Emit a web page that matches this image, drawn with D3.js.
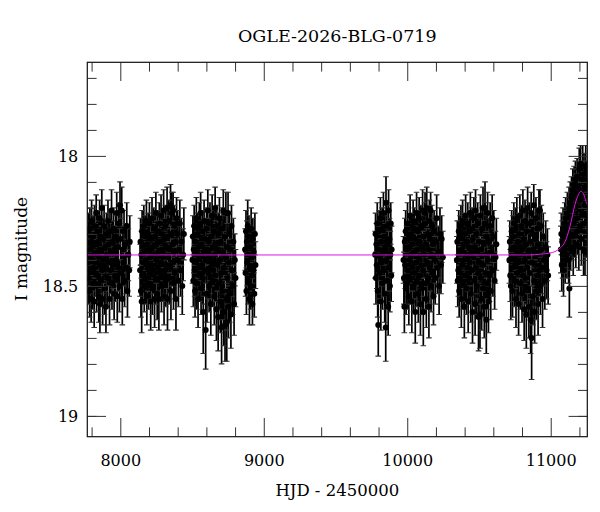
<!DOCTYPE html>
<html><head><meta charset="utf-8">
<script src="https://cdn.jsdelivr.net/npm/d3@7"></script>
<style>body{margin:0;background:#fff}svg{display:block}</style>
</head><body><svg id="c" width="600" height="512"></svg>
<script>
const title = "OGLE-2026-BLG-0719";
const xLabel = "HJD - 2450000";
const yLabel = "I magnitude";
const xMajorTicks = [8000, 9000, 10000, 11000];
const xTickLabels = ["8000", "9000", "10000", "11000"];
const xMinorTicks = [7800, 8200, 8400, 8600, 8800, 9200, 9400, 9600, 9800, 10200, 10400, 10600, 10800, 11200];
const yMajorTicks = [18, 18.5, 19];
const yTickLabels = ["18", "18.5", "19"];
const yMinorTicks = [17.7, 17.8, 17.9, 18.1, 18.2, 18.3, 18.4, 18.6, 18.7, 18.8, 18.9, 19.0];

// [HJD-2450000, I mag, error]
const season1 = [[7776,18.41,.09],[7779,18.30,.08],[7781,18.47,.10],[7783,18.36,.08],[7786,18.52,.10],[7788,18.28,.08],[7790,18.39,.09],[7793,18.44,.09],[7795,18.33,.08],[7797,18.55,.09],[7800,18.25,.08],[7802,18.40,.09],[7805,18.35,.08],[7807,18.49,.10],[7810,18.31,.08],[7812,18.43,.09],[7815,18.38,.09],[7818,18.56,.10],[7820,18.27,.08],[7823,18.45,.09],[7826,18.34,.08],[7829,18.41,.09],[7832,18.22,.07],[7835,18.50,.10],[7838,18.37,.09],[7841,18.29,.08],[7844,18.46,.10],[7847,18.33,.08],[7850,18.54,.10],[7853,18.39,.09],[7856,18.24,.07],[7858,18.57,.11],[7859,18.42,.09],[7862,18.31,.08],[7865,18.48,.10],[7868,18.36,.09],[7871,18.20,.07],[7874,18.44,.09],[7877,18.55,.10],[7880,18.32,.08],[7884,18.40,.09],[7887,18.27,.08],[7890,18.51,.10],[7894,18.35,.08],[7897,18.43,.09],[7900,18.58,.10],[7904,18.30,.08],[7907,18.38,.09],[7911,18.47,.10],[7914,18.25,.08],[7918,18.41,.09],[7921,18.34,.08],[7925,18.55,.10],[7928,18.29,.08],[7932,18.44,.09],[7935,18.37,.09],[7939,18.21,.08],[7942,18.49,.10],[7946,18.33,.08],[7950,18.42,.09],[7953,18.28,.08],[7957,18.53,.10],[7960,18.36,.09],[7964,18.46,.10],[7968,18.31,.08],[7971,18.40,.09],[7975,18.22,.08],[7979,18.54,.10],[7982,18.35,.08],[7986,18.43,.09],[7990,18.26,.08],[7994,18.50,.10],[7998,18.19,.09],[8002,18.32,.08],[8006,18.45,.09],[8010,18.21,.09],[8014,18.55,.10],[8018,18.36,.09],[8022,18.41,.09],[8026,18.29,.08],[8030,18.48,.10],[8035,18.34,.08],[8040,18.43,.10],[8045,18.27,.09],[8050,18.52,.10],[8056,18.38,.10],[8062,18.44,.10],[8066,18.33,.10]];
const season2 = [[8138,18.44,.10],[8141,18.33,.09],[8144,18.52,.10],[8147,18.38,.09],[8149,18.56,.12],[8152,18.29,.08],[8155,18.46,.10],[8158,18.35,.09],[8161,18.41,.09],[8164,18.27,.08],[8167,18.50,.10],[8170,18.37,.09],[8173,18.31,.08],[8176,18.47,.10],[8179,18.40,.09],[8182,18.25,.08],[8185,18.54,.11],[8188,18.34,.09],[8191,18.43,.09],[8194,18.30,.08],[8197,18.49,.10],[8200,18.36,.09],[8203,18.26,.08],[8206,18.45,.10],[8209,18.39,.09],[8212,18.56,.11],[8215,18.32,.08],[8218,18.42,.09],[8221,18.24,.08],[8224,18.51,.10],[8227,18.35,.09],[8230,18.44,.09],[8233,18.28,.08],[8236,18.38,.09],[8239,18.55,.11],[8242,18.31,.08],[8245,18.47,.10],[8248,18.22,.08],[8251,18.40,.09],[8254,18.34,.09],[8257,18.53,.10],[8260,18.29,.08],[8263,18.43,.09],[8266,18.37,.09],[8269,18.55,.12],[8272,18.26,.08],[8275,18.45,.10],[8278,18.33,.08],[8281,18.41,.09],[8284,18.23,.08],[8287,18.50,.10],[8290,18.36,.09],[8293,18.30,.08],[8296,18.46,.10],[8299,18.39,.09],[8302,18.21,.08],[8305,18.54,.11],[8308,18.32,.08],[8311,18.44,.09],[8314,18.27,.08],[8317,18.48,.10],[8320,18.35,.09],[8323,18.42,.09],[8326,18.20,.08],[8329,18.55,.12],[8332,18.31,.08],[8335,18.39,.09],[8338,18.25,.08],[8341,18.47,.10],[8344,18.36,.09],[8347,18.43,.09],[8350,18.19,.08],[8353,18.52,.11],[8356,18.30,.08],[8359,18.22,.08],[8362,18.41,.09],[8365,18.34,.09],[8368,18.21,.07],[8371,18.49,.10],[8374,18.37,.09],[8377,18.27,.08],[8380,18.45,.10],[8384,18.33,.09],[8388,18.55,.12],[8392,18.24,.08],[8396,18.40,.09],[8400,18.30,.09],[8405,18.48,.10],[8410,18.36,.09],[8415,18.26,.09],[8420,18.44,.10],[8426,18.33,.09],[8432,18.50,.11],[8438,18.38,.10],[8443,18.30,.10]];
const season3 = [[8503,18.40,.09],[8506,18.31,.08],[8509,18.48,.10],[8512,18.36,.09],[8515,18.27,.08],[8518,18.44,.10],[8521,18.52,.10],[8524,18.33,.09],[8527,18.41,.09],[8530,18.24,.08],[8533,18.49,.10],[8536,18.38,.09],[8539,18.30,.08],[8542,18.55,.11],[8545,18.35,.09],[8548,18.43,.09],[8551,18.26,.08],[8554,18.46,.10],[8557,18.39,.09],[8560,18.22,.08],[8563,18.51,.10],[8566,18.34,.09],[8569,18.42,.09],[8572,18.29,.08],[8575,18.47,.10],[8578,18.60,.16],[8581,18.37,.09],[8584,18.25,.08],[8587,18.44,.10],[8590,18.32,.08],[8595,18.67,.15],[8598,18.40,.09],[8601,18.28,.08],[8604,18.53,.11],[8607,18.36,.09],[8610,18.21,.08],[8613,18.45,.10],[8616,18.33,.09],[8619,18.50,.10],[8622,18.39,.09],[8625,18.26,.08],[8628,18.43,.10],[8631,18.57,.12],[8634,18.31,.08],[8637,18.41,.09],[8640,18.23,.08],[8643,18.48,.10],[8646,18.35,.09],[8649,18.44,.10],[8652,18.29,.08],[8655,18.54,.11],[8658,18.38,.09],[8661,18.20,.08],[8664,18.46,.10],[8667,18.34,.09],[8670,18.59,.12],[8673,18.27,.08],[8676,18.42,.10],[8679,18.36,.09],[8682,18.62,.13],[8685,18.30,.08],[8688,18.49,.10],[8691,18.24,.08],[8694,18.40,.09],[8697,18.56,.12],[8700,18.33,.09],[8703,18.45,.10],[8706,18.66,.14],[8709,18.28,.08],[8712,18.52,.11],[8715,18.37,.09],[8718,18.21,.08],[8721,18.60,.13],[8724,18.43,.10],[8727,18.31,.08],[8730,18.65,.14],[8733,18.39,.09],[8736,18.22,.08],[8739,18.55,.12],[8742,18.64,.15],[8745,18.35,.09],[8748,18.47,.10],[8751,18.22,.08],[8754,18.58,.12],[8757,18.41,.09],[8760,18.30,.08],[8763,18.53,.11],[8767,18.36,.09],[8771,18.61,.13],[8775,18.27,.08],[8779,18.44,.10],[8783,18.50,.11],[8788,18.33,.09],[8793,18.57,.12],[8798,18.40,.10],[8803,18.47,.11]];
const season4 = [[8870,18.36,.08],[8873,18.45,.09],[8876,18.29,.08],[8879,18.52,.09],[8882,18.33,.08],[8885,18.41,.09],[8888,18.27,.10],[8891,18.48,.09],[8894,18.38,.08],[8897,18.31,.08],[8900,18.55,.10],[8903,18.43,.09],[8906,18.35,.08],[8909,18.50,.09],[8912,18.28,.08],[8915,18.46,.09],[8918,18.39,.08],[8921,18.57,.08],[8924,18.32,.08],[8927,18.44,.09],[8930,18.37,.08],[8934,18.53,.09],[8938,18.30,.08],[8942,18.42,.09]];
const season5 = [[9776,18.38,.09],[9779,18.30,.08],[9782,18.47,.10],[9785,18.34,.08],[9788,18.42,.09],[9791,18.26,.08],[9794,18.52,.10],[9798,18.65,.12],[9801,18.36,.09],[9804,18.29,.08],[9807,18.45,.10],[9810,18.39,.09],[9813,18.24,.08],[9816,18.56,.11],[9819,18.33,.08],[9822,18.41,.09],[9825,18.28,.08],[9828,18.49,.10],[9831,18.37,.09],[9834,18.22,.08],[9837,18.44,.10],[9840,18.31,.08],[9843,18.53,.11],[9846,18.35,.09],[9850,18.66,.13],[9852,18.18,.10],[9855,18.40,.09],[9858,18.27,.08],[9861,18.48,.10],[9864,18.34,.09],[9867,18.58,.11],[9870,18.21,.08],[9873,18.43,.09],[9876,18.32,.08],[9879,18.50,.10],[9882,18.38,.09],[9885,18.26,.08],[9888,18.46,.10],[9891,18.36,.09]];
const season6 = [[9974,18.40,.09],[9977,18.47,.10],[9980,18.58,.10],[9983,18.33,.09],[9986,18.42,.09],[9989,18.29,.08],[9992,18.51,.10],[9996,18.36,.09],[9999,18.49,.10],[10002,18.26,.08],[10005,18.44,.10],[10008,18.35,.09],[10011,18.54,.11],[10014,18.31,.08],[10017,18.40,.09],[10020,18.23,.08],[10023,18.47,.10],[10026,18.38,.09],[10029,18.30,.08],[10032,18.56,.12],[10035,18.34,.09],[10038,18.43,.09],[10041,18.25,.08],[10044,18.50,.10],[10047,18.37,.09],[10050,18.28,.08],[10053,18.45,.10],[10056,18.60,.12],[10059,18.32,.08],[10062,18.41,.09],[10065,18.22,.08],[10068,18.48,.10],[10071,18.36,.09],[10074,18.29,.08],[10077,18.53,.11],[10080,18.39,.09],[10083,18.24,.08],[10086,18.46,.10],[10089,18.33,.09],[10092,18.57,.12],[10095,18.27,.08],[10098,18.42,.09],[10101,18.35,.09],[10104,18.51,.10],[10107,18.21,.08],[10110,18.44,.10],[10112,18.60,.13],[10115,18.31,.08],[10118,18.38,.09],[10121,18.26,.08],[10124,18.22,.08],[10127,18.49,.10],[10130,18.34,.09],[10133,18.55,.11],[10136,18.20,.08],[10139,18.41,.09],[10142,18.30,.08],[10145,18.47,.10],[10148,18.36,.09],[10151,18.58,.12],[10154,18.25,.08],[10157,18.43,.09],[10160,18.32,.08],[10163,18.21,.07],[10166,18.50,.10],[10169,18.38,.09],[10172,18.27,.08],[10175,18.45,.10],[10179,18.34,.09],[10183,18.54,.11],[10187,18.29,.08],[10191,18.40,.09],[10195,18.47,.10],[10200,18.33,.09],[10205,18.24,.09],[10210,18.43,.10],[10216,18.37,.10],[10222,18.50,.11],[10228,18.30,.10],[10235,18.42,.11],[10240,18.32,.09],[10248,18.39,.10]];
const season7 = [[10346,18.40,.09],[10349,18.33,.08],[10352,18.48,.10],[10356,18.44,.10],[10359,18.29,.08],[10362,18.52,.10],[10365,18.37,.09],[10368,18.31,.08],[10371,18.45,.10],[10374,18.27,.08],[10377,18.55,.11],[10380,18.36,.09],[10383,18.42,.09],[10386,18.25,.08],[10389,18.49,.10],[10392,18.34,.09],[10395,18.40,.09],[10398,18.58,.12],[10401,18.30,.08],[10404,18.46,.10],[10407,18.23,.08],[10410,18.38,.09],[10413,18.51,.10],[10416,18.33,.09],[10419,18.43,.09],[10422,18.26,.08],[10425,18.56,.12],[10428,18.35,.09],[10431,18.47,.10],[10434,18.29,.08],[10437,18.41,.09],[10440,18.22,.08],[10443,18.53,.11],[10446,18.37,.09],[10449,18.44,.10],[10452,18.28,.08],[10455,18.60,.12],[10458,18.32,.08],[10461,18.39,.09],[10464,18.24,.08],[10467,18.48,.10],[10470,18.35,.09],[10473,18.57,.12],[10476,18.21,.08],[10479,18.43,.10],[10482,18.30,.08],[10485,18.50,.11],[10488,18.37,.09],[10491,18.26,.08],[10494,18.45,.10],[10497,18.62,.13],[10500,18.33,.09],[10503,18.41,.09],[10507,18.61,.13],[10510,18.23,.08],[10513,18.47,.10],[10516,18.36,.09],[10519,18.55,.12],[10522,18.28,.08],[10525,18.42,.10],[10528,18.20,.08],[10531,18.51,.11],[10534,18.34,.09],[10537,18.58,.12],[10540,18.26,.08],[10542,18.20,.10],[10545,18.45,.10],[10548,18.38,.09],[10551,18.63,.13],[10554,18.31,.08],[10557,18.49,.10],[10560,18.22,.08],[10563,18.40,.09],[10566,18.56,.12],[10570,18.33,.09],[10574,18.46,.10],[10578,18.27,.09],[10582,18.52,.11],[10587,18.37,.09],[10592,18.24,.09],[10597,18.44,.10],[10603,18.31,.10],[10609,18.48,.11],[10615,18.39,.10],[10621,18.34,.10]];
const season8 = [[10712,18.40,.09],[10715,18.33,.08],[10718,18.46,.10],[10722,18.50,.13],[10725,18.36,.09],[10728,18.29,.08],[10731,18.43,.09],[10734,18.52,.10],[10737,18.31,.08],[10740,18.39,.09],[10743,18.26,.08],[10746,18.48,.10],[10749,18.35,.09],[10752,18.42,.09],[10755,18.28,.08],[10758,18.55,.11],[10761,18.37,.09],[10764,18.24,.08],[10767,18.45,.10],[10770,18.33,.09],[10773,18.41,.09],[10776,18.57,.12],[10779,18.30,.08],[10782,18.38,.09],[10785,18.23,.08],[10788,18.49,.10],[10791,18.35,.09],[10794,18.44,.10],[10797,18.27,.08],[10800,18.53,.11],[10803,18.36,.09],[10806,18.21,.08],[10809,18.46,.10],[10812,18.32,.08],[10815,18.59,.12],[10818,18.40,.09],[10821,18.25,.08],[10824,18.47,.10],[10827,18.34,.09],[10830,18.61,.13],[10833,18.29,.08],[10836,18.43,.10],[10839,18.20,.08],[10842,18.51,.11],[10845,18.37,.09],[10848,18.58,.12],[10851,18.26,.08],[10854,18.45,.10],[10857,18.33,.09],[10860,18.63,.13],[10864,18.22,.08],[10867,18.70,.16],[10870,18.41,.09],[10873,18.30,.08],[10876,18.54,.11],[10879,18.36,.09],[10882,18.19,.08],[10885,18.48,.10],[10888,18.60,.12],[10891,18.32,.08],[10894,18.42,.09],[10897,18.24,.08],[10900,18.52,.11],[10903,18.38,.09],[10906,18.28,.08],[10909,18.46,.10],[10912,18.57,.12],[10915,18.34,.09],[10918,18.21,.08],[10921,18.44,.10],[10925,18.21,.08],[10928,18.50,.11],[10931,18.36,.09],[10935,18.27,.08],[10939,18.43,.10],[10943,18.55,.11],[10948,18.31,.09],[10953,18.40,.10],[10959,18.48,.11],[10965,18.35,.10],[10971,18.44,.11],[10977,18.38,.10],[10982,18.46,.11]];
const season9 = [[11071,18.36,.09],[11074,18.30,.08],[11077,18.42,.10],[11080,18.33,.08],[11083,18.38,.09],[11086,18.28,.08],[11089,18.44,.10],[11092,18.31,.08],[11095,18.36,.09],[11098,18.26,.08],[11101,18.40,.09],[11104,18.24,.08],[11107,18.34,.09],[11110,18.29,.08],[11113,18.38,.09],[11116,18.22,.08],[11119,18.32,.08],[11122,18.27,.08],[11125,18.40,.09],[11128,18.20,.08],[11130,18.51,.11],[11133,18.30,.08],[11136,18.18,.08],[11139,18.35,.09],[11142,18.24,.08],[11145,18.16,.08],[11148,18.31,.09],[11151,18.21,.08],[11154,18.13,.08],[11157,18.37,.09],[11160,18.26,.08],[11163,18.11,.07],[11166,18.30,.09],[11169,18.19,.08],[11172,18.09,.07],[11175,18.34,.09],[11178,18.15,.08],[11181,18.24,.08],[11184,18.08,.07],[11187,18.29,.09],[11190,18.12,.07],[11193,18.20,.08],[11196,18.35,.09],[11199,18.05,.08],[11202,18.17,.08],[11205,18.27,.09],[11208,18.03,.07],[11211,18.14,.08],[11214,18.32,.10],[11217,18.09,.07],[11220,18.22,.08],[11223,18.04,.08],[11226,18.16,.08],[11229,18.36,.10],[11232,18.07,.08],[11235,18.26,.09],[11238,18.12,.08],[11239,18.37,.09],[11241,18.19,.08],[11244,18.04,.08],[11247,18.30,.09],[11250,18.10,.08],[11253,18.23,.09]];

// model curve
const modelHJD = [7770, 10850, 10925, 10994, 11065, 11100, 11134, 11169, 11193, 11211, 11228, 11246, 11255];
const modelMag = [18.381, 18.381, 18.378, 18.374, 18.355, 18.330, 18.272, 18.187, 18.149, 18.136, 18.145, 18.175, 18.189];

const svg = d3.select("#c");
const L = 87.3, R = 587.3, T = 62.3, B = 436.7;
const x = d3.scaleLinear().domain([7770, 11255]).range([L, R]);
const y = d3.scaleLinear().domain([17.64, 19.08]).range([T, B]);
const font = "DejaVu Serif";

svg.append("defs").append("clipPath").attr("id", "clip")
  .append("rect").attr("x", L).attr("y", T).attr("width", R - L).attr("height", B - T);

const pts = [].concat(season1, season2, season3, season4, season5, season6, season7, season8, season9);
const gd = svg.append("g").attr("clip-path", "url(#clip)");
const cap = 2.8;
gd.append("g").selectAll("line").data(pts).join("line")
  .attr("x1", d => x(d[0])).attr("x2", d => x(d[0]))
  .attr("y1", d => y(d[1] - d[2])).attr("y2", d => y(d[1] + d[2]))
  .attr("stroke", "#000").attr("stroke-width", 1.7);
gd.append("g").selectAll("path").data(pts).join("path")
  .attr("d", d => `M${x(d[0]) - cap},${y(d[1] - d[2])}H${x(d[0]) + cap}M${x(d[0]) - cap},${y(d[1] + d[2])}H${x(d[0]) + cap}`)
  .attr("stroke", "#333").attr("stroke-width", 1.1).attr("fill", "none");
gd.append("g").selectAll("circle").data(pts).join("circle")
  .attr("cx", d => x(d[0])).attr("cy", d => y(d[1])).attr("r", 3).attr("fill", "#000");

const model = modelHJD.map((t, i) => [t, modelMag[i]]);
gd.append("path").datum(model)
  .attr("d", d3.line().x(d => x(d[0])).y(d => y(d[1])).curve(d3.curveMonotoneX))
  .attr("fill", "none").attr("stroke", "#e014e0").attr("stroke-width", 1);

function styleAxis(g) {
  g.select(".domain").remove();
  g.selectAll(".tick line").attr("stroke", "#333").attr("stroke-width", 1);
  g.selectAll(".tick text").attr("font-family", font).attr("font-size", 16).attr("fill", "#000");
}
const MJ = 18.7, MN = 9.3;
svg.append("g").attr("transform", `translate(0,${B})`)
  .call(d3.axisBottom(x).tickValues(xMinorTicks).tickSize(-MN).tickFormat("")).call(styleAxis);
svg.append("g").attr("transform", `translate(0,${B})`)
  .call(d3.axisBottom(x).tickValues(xMajorTicks).tickSize(-MJ).tickPadding(18).tickFormat((d, i) => xTickLabels[i])).call(styleAxis);
svg.append("g").attr("transform", `translate(0,${T})`)
  .call(d3.axisTop(x).tickValues(xMinorTicks).tickSize(-MN).tickFormat("")).call(styleAxis);
svg.append("g").attr("transform", `translate(0,${T})`)
  .call(d3.axisTop(x).tickValues(xMajorTicks).tickSize(-MJ).tickFormat("")).call(styleAxis);
svg.append("g").attr("transform", `translate(${L},0)`)
  .call(d3.axisLeft(y).tickValues(yMinorTicks).tickSize(-MN).tickFormat("")).call(styleAxis);
svg.append("g").attr("transform", `translate(${L},0)`)
  .call(d3.axisLeft(y).tickValues(yMajorTicks).tickSize(-MJ).tickPadding(9).tickFormat((d, i) => yTickLabels[i])).call(styleAxis);
svg.append("g").attr("transform", `translate(${R},0)`)
  .call(d3.axisRight(y).tickValues(yMinorTicks).tickSize(-MN).tickFormat("")).call(styleAxis);
svg.append("g").attr("transform", `translate(${R},0)`)
  .call(d3.axisRight(y).tickValues(yMajorTicks).tickSize(-MJ).tickFormat("")).call(styleAxis);

svg.append("rect").attr("x", L).attr("y", T).attr("width", R - L).attr("height", B - T)
  .attr("fill", "none").attr("stroke", "#111").attr("stroke-width", 1.2);

svg.append("text").attr("x", (L + R) / 2).attr("y", 42).attr("text-anchor", "middle")
  .attr("font-family", font).attr("font-size", 17.5).text(title);
svg.append("text").attr("x", (L + R) / 2).attr("y", 495.5).attr("text-anchor", "middle")
  .attr("font-family", font).attr("font-size", 16.5).text(xLabel);
svg.append("text").attr("transform", "translate(26.7,249) rotate(-90)").attr("text-anchor", "middle")
  .attr("font-family", font).attr("font-size", 17).text(yLabel);
</script></body></html>
